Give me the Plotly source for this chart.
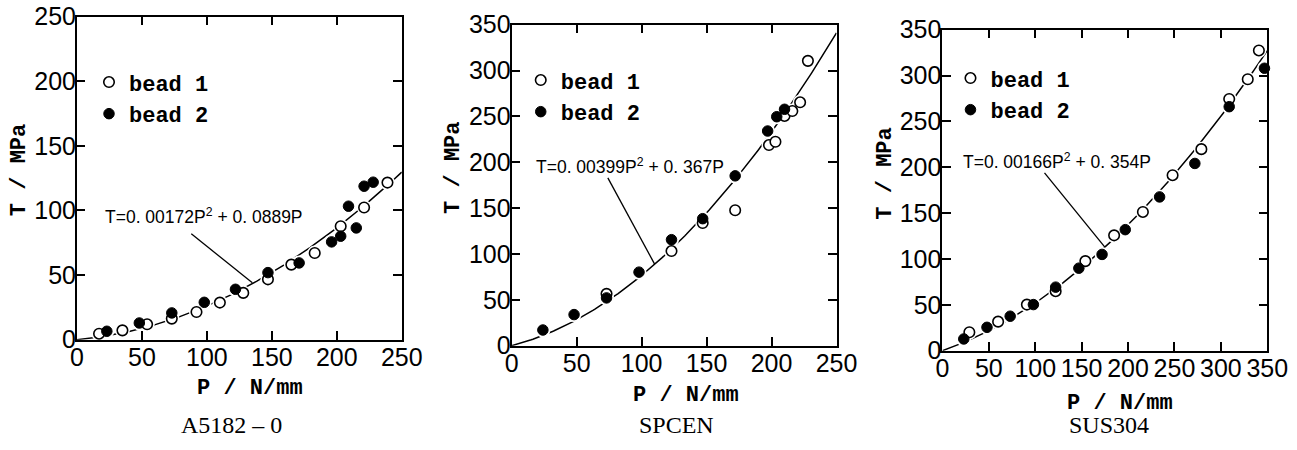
import numpy as np
import plotly.graph_objects as go

W, H = 1297, 450
# measured mapping from page pixels to the photographed picture
SX, SY, TX, TY = 0.979, 0.935, 7.0, 14.3
FS = 1.045  # font/marker compensation for that mapping

# ---------------- data ----------------
# Panel 1: A5182-0
a_p1 = [17, 35, 54, 73, 92, 110, 128, 147, 165, 183, 203, 221, 239]
a_t1 = [4.6, 7.2, 11.9, 16.3, 21.4, 28.7, 36.2, 46.7, 58.1, 67.1, 87.8, 102.3, 121.6]
a_p2 = [23, 48, 73, 98, 122, 147, 171, 196, 203, 209, 215, 221, 228]
a_t2 = [6.5, 12.9, 20.7, 28.9, 39, 51.9, 59.4, 75.7, 80.1, 103.3, 86.5, 118.8, 121.9]
a_coef = (0.00172, 0.0889)

# Panel 2: SPCEN
s_p1 = [73, 123, 147, 172, 198, 203, 210, 216, 222, 228]
s_t1 = [56.5, 103.2, 133.8, 147.7, 218.8, 222.4, 250.5, 255.9, 265.4, 310.6]
s_p2 = [24, 48, 73, 98, 123, 147, 172, 197, 204, 210]
s_t2 = [17.1, 33.9, 52.1, 80.2, 115.6, 138.5, 185.2, 234.1, 249.7, 257.8]
s_coef = (0.00399, 0.367)

# Panel 3: SUS304
u_p1 = [29, 60, 91, 122, 154, 185, 216, 248, 279, 309, 329, 341]
u_t1 = [20.1, 31.7, 50.3, 64.9, 97.7, 125.8, 151.3, 191.4, 219.8, 274.5, 296, 327.4]
u_p2 = [23, 48, 73, 98, 122, 147, 172, 197, 234, 272, 309, 347]
u_t2 = [12.8, 25.5, 37.6, 50.3, 69.3, 90, 105, 132, 167.7, 204.2, 266.1, 308]
u_coef = (0.00166, 0.354)

titles = ["A5182 \u2013 0", "SPCEN", "SUS304"]
equations = ["T=0. 00172P<sup>2</sup> + 0. 0889P",
             "T=0. 00399P<sup>2</sup> + 0. 367P",
             "T=0. 00166P<sup>2</sup> + 0. 354P"]
x_ranges = [250, 250, 350]
y_ranges = [250, 350, 350]
legend_names = ["<b>bead 1</b>", "<b>bead 2</b>"]

# ---------------- target geometry (picture pixels) ----------------
boxes = [(77, 402, 17, 339), (512, 837, 25, 345), (943, 1268, 30, 350)]
ytitle_xy = [(19, 170), (453, 168), (886, 173)]
xtitle_xy = [(250, 388), (686, 395), (1121, 403)]
sub_xy = [(232, 428), (677, 432), (1110, 425)]
eq_xy = [(103, 216), (534, 166), (962, 161)]
leader = [((88, 82), (135, 44)), ((74, 183), (110, 89)), ((110, 194), (175, 113))]
legend_marker_xy = [(110, 82), (542, 80), (972, 78)]
LEG_DX, LEG_DY = 21.4, 22.0  # legend box corner to first marker centre (page px)

def page_x(px):
    return (px - TX) / SX

def page_y(py):
    return (py - TY) / SY

def fx(px):
    return page_x(px) / W

def fy(py, ymax=None):
    p = page_y(py)
    if ymax is not None:
        p = min(p, ymax)
    return 1 - p / H

TICKF = dict(family="Liberation Sans, Arial, sans-serif", size=round(24 * FS), color="black")
MONO = "Liberation Mono, DejaVu Sans Mono, monospace"
NARROW = "Liberation Sans, sans-serif"
SERIF = "Liberation Serif, DejaVu Serif, serif"

panels = [
    (a_p1, a_t1, a_p2, a_t2, a_coef),
    (s_p1, s_t1, s_p2, s_t2, s_coef),
    (u_p1, u_t1, u_p2, u_t2, u_coef),
]

fig = go.Figure()
annotations = []
shapes = []
layout_axes = {}
legends = {}

for i, (p1, t1, p2, t2, coef) in enumerate(panels):
    n = "" if i == 0 else str(i + 1)
    xa, ya = "x" + n, "y" + n
    leg = "legend" + n
    # fitted curve from the printed equation
    P = np.linspace(0, x_ranges[i], 200)
    T = coef[0] * P ** 2 + coef[1] * P
    fig.add_trace(go.Scatter(x=P, y=T, mode="lines", line=dict(color="black", width=1.5),
                             xaxis=xa, yaxis=ya, showlegend=False, hoverinfo="skip"))
    # white halos break the curve around the markers, as in the original
    fig.add_trace(go.Scatter(x=list(p1) + list(p2), y=list(t1) + list(t2), mode="markers",
                             marker=dict(size=15, color="white", line=dict(width=0)),
                             xaxis=xa, yaxis=ya, showlegend=False, hoverinfo="skip", cliponaxis=False))
    fig.add_trace(go.Scatter(x=p1, y=t1, mode="markers", name=legend_names[0],
                             marker=dict(size=10.5, color="white", symbol="circle",
                                         line=dict(color="black", width=1.6)),
                             xaxis=xa, yaxis=ya, legend=leg, legendgroup="g1" + n, cliponaxis=False))
    fig.add_trace(go.Scatter(x=p2, y=t2, mode="markers", name=legend_names[1],
                             marker=dict(size=10.5, color="black", symbol="circle",
                                         line=dict(color="black", width=1)),
                             xaxis=xa, yaxis=ya, legend=leg, legendgroup="g2" + n, cliponaxis=False))

    l, r, t, b = boxes[i]
    common = dict(showgrid=False, zeroline=False, ticks="inside", ticklen=8.5, tickwidth=1.5,
                  tickcolor="black", showline=True, linewidth=2, linecolor="black",
                  mirror="ticks", tickfont=TICKF, dtick=50, fixedrange=True)
    layout_axes["xaxis" + n] = dict(common, domain=[fx(l), fx(r)], range=[0, x_ranges[i]],
                                    anchor=ya, ticklabelstandoff=-6)
    layout_axes["yaxis" + n] = dict(common, domain=[fy(b), fy(t)], range=[0, y_ranges[i]],
                                    anchor=xa, ticklabelstandoff=-6)
    annotations.append(dict(text="<b>P / N/mm</b>", x=fx(xtitle_xy[i][0]), y=fy(xtitle_xy[i][1]),
                            xref="paper", yref="paper", showarrow=False, xanchor="center",
                            yanchor="middle", font=dict(family=MONO, size=22, color="black")))
    annotations.append(dict(text="<b>T / MPa</b>", x=fx(ytitle_xy[i][0]), y=fy(ytitle_xy[i][1]),
                            xref="paper", yref="paper", showarrow=False, xanchor="center",
                            yanchor="middle", textangle=-90,
                            font=dict(family=MONO, size=22, color="black")))
    annotations.append(dict(text=titles[i], x=fx(sub_xy[i][0]), y=fy(sub_xy[i][1], ymax=438),
                            xref="paper", yref="paper", showarrow=False, xanchor="center",
                            yanchor="middle", font=dict(family=SERIF, size=24, color="black")))
    annotations.append(dict(text=equations[i], x=fx(eq_xy[i][0]), y=fy(eq_xy[i][1]), xref="paper",
                            yref="paper", showarrow=False, xanchor="left", yanchor="middle",
                            font=dict(family=NARROW, size=17.5, color="black")))
    (x0, y0), (x1, y1) = leader[i]
    shapes.append(dict(type="line", x0=x0, y0=y0, x1=x1, y1=y1, xref=xa, yref=ya,
                       line=dict(color="black", width=1.3)))
    mx, my = legend_marker_xy[i]
    legends[leg] = dict(x=(page_x(mx) - LEG_DX) / W, y=1 - (page_y(my) - LEG_DY) / H,
                        xanchor="left", yanchor="top",
                        bgcolor="rgba(0,0,0,0)", borderwidth=0, traceorder="grouped",
                        tracegroupgap=0,
                        font=dict(family=MONO, size=22, color="black"))

fig.update_layout(width=W, height=H, margin=dict(l=0, r=0, t=0, b=0),
                  paper_bgcolor="white", plot_bgcolor="white",
                  annotations=annotations, shapes=shapes, **layout_axes, **legends)

fig.write_html("out.html", config={"displayModeBar": False},
               post_script="document.body.style.margin='0px';document.body.style.overflow='hidden';")
